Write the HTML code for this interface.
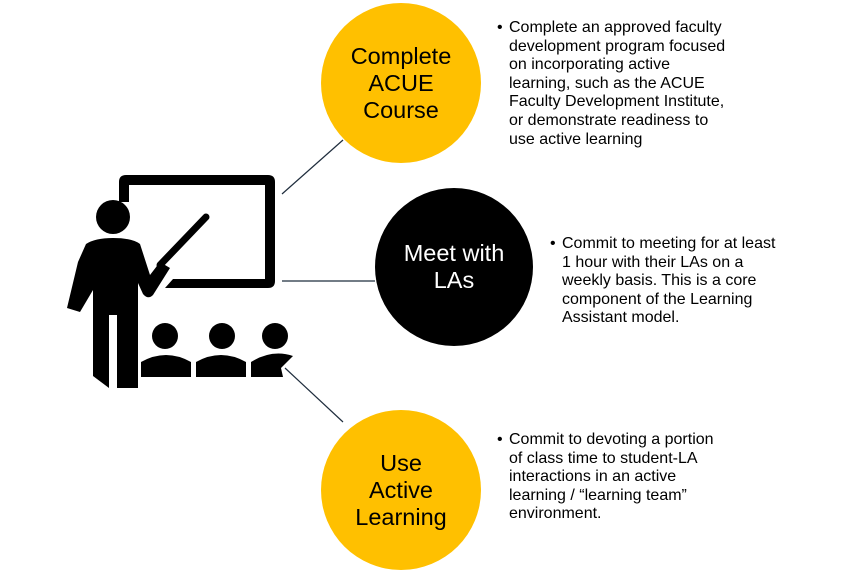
<!DOCTYPE html>
<html><head><style>
body{margin:0;width:845px;height:567px;background:#fff;position:relative;overflow:hidden;font-family:"Liberation Sans",sans-serif}
.c{position:absolute;border-radius:50%;display:flex;align-items:center;justify-content:center;text-align:center;font-size:23.5px;line-height:27px}
.t{position:absolute;font-size:16px;line-height:18.6px;color:#000}
.t:before{content:"•";position:absolute;left:-12px}
</style></head><body>
<svg width="845" height="567" style="position:absolute;left:0;top:0">
<g stroke="#1f2d3d" stroke-width="1.2">
<line x1="282" y1="194" x2="343" y2="140"/>
<line x1="282" y1="281" x2="375" y2="281"/>
<line x1="285" y1="368" x2="343" y2="422"/>
</g>
<path d="M119,202 V182 Q119,175 126,175 H268 Q275,175 275,182 V281 Q275,288 268,288 H165 L173,279 H265 V185 H129 V202 Z" fill="#000"/>
<circle cx="113" cy="217" r="17" fill="#000"/>
<path d="M86,244 Q95,238 113,238 Q132,238 140,244 L150,275 L160,262 L170,268 L153,295 Q148,300 143,294 L138,283 V388 H117 V315 H109 V388 L93,376 V290 L80,312 L67,308 L78,262 Z" fill="#000"/>
<line x1="160" y1="265" x2="206" y2="217" stroke="#000" stroke-width="7" stroke-linecap="round"/>
<g fill="#000">
<circle cx="165" cy="336" r="13"/><circle cx="222" cy="336" r="13"/><circle cx="275" cy="336" r="13"/>
<path d="M141,377 V362 Q166,348 191,362 V377 Z"/>
<path d="M196,377 V362 Q221,348 246,362 V377 Z"/>
<path d="M251,377 V362 Q272,349 293,356 L281,368 L283,377 Z"/>
</g>
</svg>
<div class="c" style="left:321px;top:3px;width:160px;height:160px;background:#FFC000">Complete<br>ACUE<br>Course</div>
<div class="c" style="left:375px;top:188px;width:158px;height:158px;background:#000;color:#fff">Meet with<br>LAs</div>
<div class="c" style="left:321px;top:410px;width:160px;height:160px;background:#FFC000">Use<br>Active<br>Learning</div>
<div class="t" style="left:509px;top:19px;width:222px">Complete an approved faculty development program focused on incorporating active learning, such as the ACUE Faculty Development Institute, or demonstrate readiness to use active learning</div>
<div class="t" style="left:562px;top:235px;width:222px">Commit to meeting for at least 1 hour with their LAs on a weekly basis. This is a core component of the Learning Assistant model.</div>
<div class="t" style="left:509px;top:431px;width:215px">Commit to devoting a portion of class time to student-LA interactions in an active learning / “learning team” environment.</div>
</body></html>
